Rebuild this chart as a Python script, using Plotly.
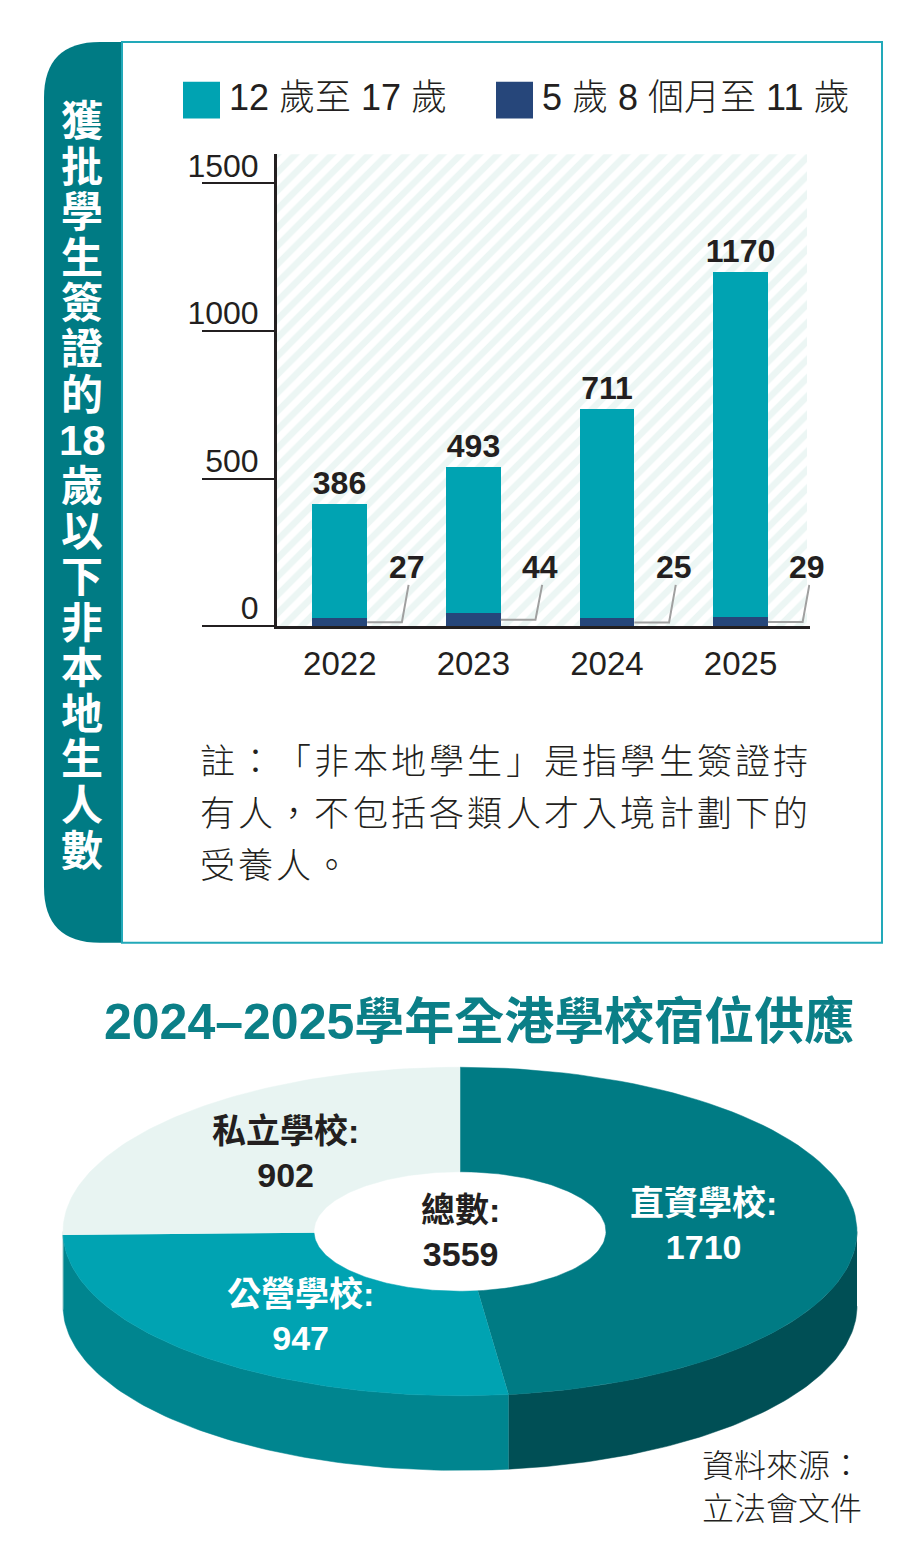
import math
import plotly.graph_objects as go

# bar chart data
years = ["2022", "2023", "2024", "2025"]
older = [386, 493, 711, 1170]      # 12歲至17歲
younger = [27, 44, 25, 29]         # 5歲8個月至11歲
y_ticks = [0, 500, 1000, 1500]

# pie data (clockwise from 12 o'clock)
school_types = ["直資學校", "公營學校", "私立學校"]
places = [1710, 947, 902]

note_lines = ["註：「非本地學生」是指學生簽證持",
              "有人，不包括各類人才入境計劃下的",
              "受養人。"]
side_title = ["獲", "批", "學", "生", "簽", "證", "的", "18", "歲",
              "以", "下", "非", "本", "地", "生", "人", "數"]

TEAL = "#00a3b2"
NAVY = "#26467a"
DARK = "#231f20"
DEEP = "#007b84"
FONT = "Liberation Sans, Noto Sans CJK TC"

# the page body adds an 8px margin, so the figure is sized to fit and the
# helper axes (x2/y2) are ranged in page pixels
OFF = 8
W, H = 907 - OFF, 1562 - OFF
y_top = 1598
xs = list(range(len(years)))
bar_w = 0.41

fig = go.Figure()

# hatched backdrop of the plot area
fig.add_trace(go.Bar(
    x=xs, y=[y_top] * len(xs), width=1,
    marker=dict(color="white", line_width=0,
                pattern=dict(shape="/", fgcolor="#d9edea", bgcolor="white",
                             size=13, solidity=0.5)),
    hoverinfo="skip", showlegend=False))

fig.add_trace(go.Bar(x=xs, y=younger, width=bar_w, marker_color=NAVY,
                     marker_line_width=0, name="5歲8個月至11歲", showlegend=False))
fig.add_trace(go.Bar(x=xs, y=older, base=younger, width=bar_w, marker_color=TEAL,
                     marker_line_width=0, name="12歲至17歲", showlegend=False,
                     text=older, textposition="outside", constraintext="none",
                     cliponaxis=False,
                     outsidetextfont=dict(size=32, color=DARK, family=FONT, weight="bold")))

shapes = []
annotations = []

# small labels for the younger group with leader lines
label_y = 200
for i, v in enumerate(younger):
    shapes.append(dict(type="path", xref="x", yref="y",
                       path=f"M {i + bar_w / 2},{v / 2} L {i + 0.465},{v / 2} L {i + 0.515},{label_y - 60}",
                       line=dict(color="#a0a0a0", width=2)))
    annotations.append(dict(x=i + 0.5, y=label_y, xref="x", yref="y", text=str(v),
                            showarrow=False,
                            font=dict(size=32, color=DARK, family=FONT, weight="bold")))

# --- pie drawn as a flattened 3D ring on the pixel axis pair
CX, CY, RX, RY = 460, 1230, 397, 165
HRX, HRY = 146, 60
DEPTH = 75
tops = [DEEP, TEAL, "#e8f4f2"]
sides = ["#004f55", "#00858f", "#c9dedb"]
label_colors = ["white", "white", DARK]


def arc(a0, a1, rx, ry, dy=0, n=80):
    px, py = [], []
    for k in range(n + 1):
        t = math.radians(a0 + (a1 - a0) * k / n)
        px.append(CX + rx * math.sin(t))
        py.append(CY - ry * math.cos(t) + dy)
    return px, py


total = sum(places)
start = 0.0
bounds = []
for v in places:
    end = start + 360.0 * v / total
    bounds.append((start, end))
    start = end

for (a0, a1), col in zip(bounds, sides):
    s0, s1 = max(a0, 90), min(a1, 270)
    if s0 < s1:
        ox, oy = arc(s0, s1, RX, RY)
        bx, by = arc(s0, s1, RX, RY, DEPTH)
        fig.add_trace(go.Scatter(x=ox + bx[::-1], y=oy + by[::-1], fill="toself",
                                 fillcolor=col, mode="lines", line=dict(width=0.5, color=col),
                                 xaxis="x2", yaxis="y2", hoverinfo="skip", showlegend=False))

for (a0, a1), col in zip(bounds, tops):
    ox, oy = arc(a0, a1, RX, RY)
    ix, iy = arc(a0, a1, HRX, HRY)
    fig.add_trace(go.Scatter(x=ox + ix[::-1], y=oy + iy[::-1], fill="toself",
                             fillcolor=col, mode="lines", line=dict(width=0.5, color=col),
                             xaxis="x2", yaxis="y2", hoverinfo="skip", showlegend=False))

for (a0, a1), name, v, col in zip(bounds, school_types, places, label_colors):
    t = math.radians((a0 + a1) / 2)
    lx = CX + 0.9 * (RX + HRX) / 2 * math.sin(t)
    ly = CY - (RY + HRY) / 2 * math.cos(t)
    annotations.append(dict(x=lx, y=ly, xref="x2", yref="y2", text=f"{name}:<br>{v}",
                            showarrow=False,
                            font=dict(size=34, color=col, family=FONT, weight="bold")))

annotations.append(dict(x=CX, y=CY, xref="x2", yref="y2", text=f"總數:<br>{total}",
                        showarrow=False,
                        font=dict(size=34, color=DARK, family=FONT, weight="bold")))

# --- frame, side tab, legend, texts
shapes.append(dict(type="path", xref="x2", yref="y2", layer="below",
                   path="M 122,35 L 100,35 Q 44,35 44,91 L 44,884 Q 44,940 100,940 L 122,940 Z",
                   fillcolor=DEEP, line_width=0))
shapes.append(dict(type="rect", xref="x2", yref="y2", layer="below",
                   x0=122, x1=882, y0=35, y1=940,
                   line=dict(color="#22a9b9", width=2)))

for i, ch in enumerate(side_title):
    annotations.append(dict(x=82, y=115 + i * 45.8, xref="x2", yref="y2", text=ch,
                            showarrow=False,
                            font=dict(size=42, color="white", family=FONT, weight="bold")))

legend_items = [("12 歲至 17 歲", TEAL, 183), ("5 歲 8 個月至 11 歲", NAVY, 496)]
for txt, col, x0 in legend_items:
    shapes.append(dict(type="rect", xref="x2", yref="y2", x0=x0, x1=x0 + 37,
                       y0=75, y1=112, fillcolor=col, line_width=0))
    annotations.append(dict(x=x0 + 44, y=91, xref="x2", yref="y2", text=txt,
                            xanchor="left", showarrow=False,
                            font=dict(size=36, color=DARK, family=FONT, weight=300)))

# note, set on a fixed character grid
for i, line in enumerate(note_lines):
    for k, ch in enumerate(line):
        annotations.append(dict(x=198 + 38.25 * k + 19, y=758 + i * 52, xref="x2", yref="y2",
                                text=ch, showarrow=False,
                                font=dict(size=35, color=DARK, family=FONT, weight=300)))

annotations.append(dict(x=479, y=1020, xref="x2", yref="y2",
                        text="2024–2025學年全港學校宿位供應", showarrow=False,
                        font=dict(size=50, color="#0b7f87", family=FONT, weight="bold")))

for i, line in enumerate(["資料來源：", "立法會文件"]):
    annotations.append(dict(x=700, y=1466 + i * 43, xref="x2", yref="y2", text=line,
                            xanchor="left", showarrow=False,
                            font=dict(size=32, color=DARK, family=FONT, weight=300)))

fig.update_layout(
    width=W, height=H, margin=dict(l=0, r=0, t=0, b=0),
    paper_bgcolor="white", plot_bgcolor="rgba(0,0,0,0)",
    barmode="overlay", bargap=0, showlegend=False,
    xaxis=dict(domain=[(277 - OFF) / W, (810 - OFF) / W], range=[-0.47, 3.52],
               tickvals=xs, ticktext=years, ticks="", showline=True, linewidth=3,
               linecolor=DARK, showgrid=False, zeroline=False, fixedrange=True,
               tickfont=dict(size=33, color=DARK, family=FONT), ticklabelstandoff=6),
    yaxis=dict(domain=[1 - (622 - OFF) / H, 1 - (148 - OFF) / H], range=[0, y_top],
               tickvals=y_ticks, ticks="outside", ticklen=72, tickwidth=1.5,
               tickcolor=DARK, showline=True, linewidth=3, linecolor=DARK,
               showgrid=False, zeroline=False, fixedrange=True,
               tickfont=dict(size=32, color=DARK, family=FONT),
               ticklabelstandoff=-63, ticklabelshift=-18),
    xaxis2=dict(domain=[0, 1], range=[OFF, 907], visible=False, fixedrange=True),
    yaxis2=dict(domain=[0, 1], range=[1562, OFF], visible=False, fixedrange=True),
    shapes=shapes, annotations=annotations,
)

fig.write_html("out.html")
